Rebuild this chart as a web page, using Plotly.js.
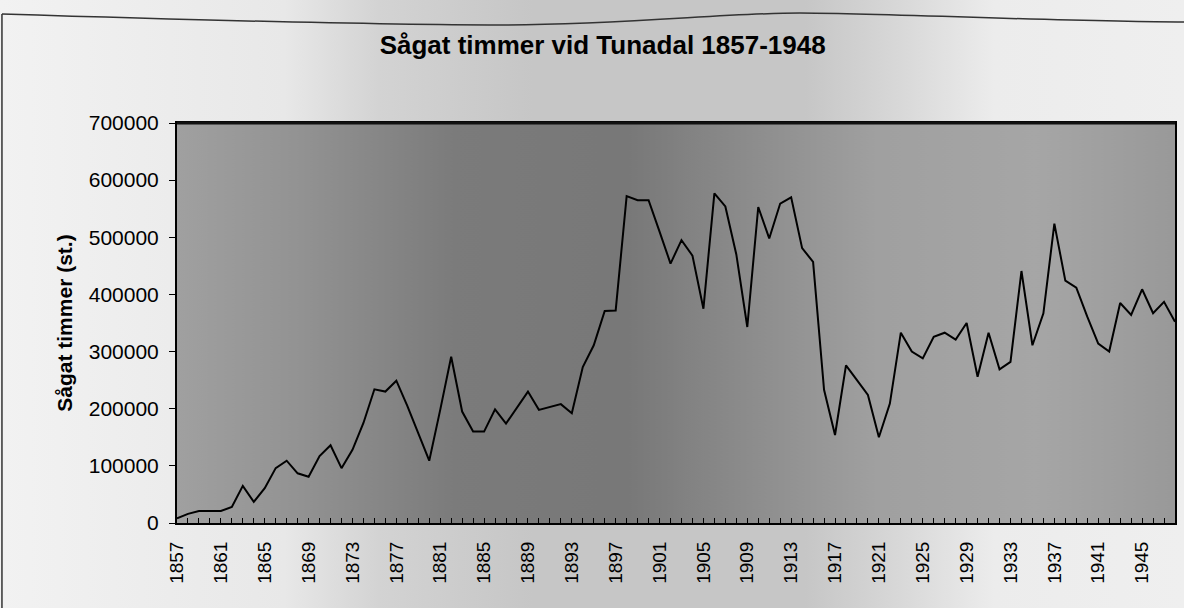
<!DOCTYPE html>
<html>
<head>
<meta charset="utf-8">
<script src="https://cdn.plot.ly/plotly-3.0.1.min.js"></script>
<style>
  html, body { margin:0; padding:0; }
  body {
    width:1184px; height:608px; overflow:hidden;
    background: linear-gradient(to right, #f2f2f2 0%, #e8e8e8 24%, #d3d3d3 32%, #c6c6c6 45%, #c6c6c6 68%, #d8d8d8 76%, #ececec 84%, #efefef 100%);
  }
  #chart { width:1184px; height:608px; }
</style>
</head>
<body>
<div id="chart"></div>
<script>
// Data
const years = [
  1857,1858,1859,1860,1861,1862,1863,1864,1865,1866,1867,1868,1869,1870,1871,1872,1873,1874,1875,1876,
  1877,1878,1879,1880,1881,1882,1883,1884,1885,1886,1887,1888,1889,1890,1891,1892,1893,1894,1895,1896,
  1897,1898,1899,1900,1901,1902,1903,1904,1905,1906,1907,1908,1909,1910,1911,1912,1913,1914,1915,1916,
  1917,1918,1919,1920,1921,1922,1923,1924,1925,1926,1927,1928,1929,1930,1931,1932,1933,1934,1935,1936,
  1937,1938,1939,1940,1941,1942,1943,1944,1945,1946,1947,1948
];
const sawnLogs = [
  8000,16000,21000,21000,21000,28000,65000,37000,61000,96000,109000,87000,81000,117000,136000,96000,128000,175000,234000,230000,
  249000,205000,157000,109000,198000,291000,195000,160000,160000,199000,174000,203000,230000,198000,203000,208000,192000,273000,311000,371000,
  372000,572000,565000,565000,510000,454000,495000,468000,375000,577000,554000,470000,343000,553000,498000,559000,570000,481000,457000,233000,
  154000,276000,250000,224000,150000,209000,333000,300000,288000,326000,333000,321000,350000,256000,333000,269000,282000,441000,311000,367000,
  524000,424000,412000,361000,314000,300000,385000,364000,409000,367000,387000,352000
];
const xTickVals = [1857,1861,1865,1869,1873,1877,1881,1885,1889,1893,1897,1901,1905,1909,1913,1917,1921,1925,1929,1933,1937,1941,1945];
const xTickText = ["1857","1861","1865","1869","1873","1877","1881","1885","1889","1893","1897","1901","1905","1909","1913","1917","1921","1925","1929","1933","1937","1941","1945"];
const yTickVals = [0,100000,200000,300000,400000,500000,600000,700000];
const chartTitle = 'Sågat timmer vid Tunadal 1857-1948';
const yTitle = 'Sågat timmer (st.)';

// Plot-area background shading (scanned grey look)
function plotBg() {
  const c = document.createElement('canvas');
  c.width = 1000; c.height = 400;
  const g = c.getContext('2d');
  const h = g.createLinearGradient(0,0,1000,0);
  h.addColorStop(0.00, '#a0a0a0');
  h.addColorStop(0.12, '#939393');
  h.addColorStop(0.28, '#7b7b7b');
  h.addColorStop(0.45, '#787878');
  h.addColorStop(0.56, '#8a8a8a');
  h.addColorStop(0.70, '#a0a0a0');
  h.addColorStop(0.86, '#a6a6a6');
  h.addColorStop(1.00, '#999999');
  g.fillStyle = h; g.fillRect(0,0,1000,400);
  return c.toDataURL('image/png');
}

const FONT = 'Arial, Liberation Sans, sans-serif';

const trace = {
  x: years, y: sawnLogs, type: 'scatter', mode: 'lines',
  line: { color: '#000000', width: 2 }, hoverinfo: 'x+y'
};

const layout = {
  width: 1184, height: 608,
  margin: { l: 177, r: 9, t: 123, b: 85 },
  paper_bgcolor: 'rgba(0,0,0,0)',
  plot_bgcolor: 'rgba(0,0,0,0)',
  showlegend: false,
  font: { family: FONT, color: '#000', size: 20 },
  title: {
    text: '<b>' + chartTitle + '</b>',
    x: 0.509, xanchor: 'center', xref: 'container',
    y: 0.926, yanchor: 'middle', yref: 'container',
    font: { family: FONT, size: 26, color: '#000' }
  },
  xaxis: {
    range: [1857, 1948],
    tickmode: 'array', tickvals: xTickVals, ticktext: xTickText,
    tickangle: -90,
    ticks: 'inside', ticklen: 5, tickwidth: 1, tickcolor: '#000',
    minor: { tickmode: 'linear', tick0: 1857, dtick: 1, ticks: 'inside', ticklen: 5, tickwidth: 1, tickcolor: '#000' },
    ticklabelstandoff: 9,
    tickfont: { family: FONT, size: 19, color: '#000' },
    showgrid: false, zeroline: false,
    showline: true, linecolor: '#000', linewidth: 2, mirror: true
  },
  yaxis: {
    range: [0, 700000],
    tickmode: 'array', tickvals: yTickVals, tickformat: 'd',
    ticks: 'outside', ticklen: 6, tickwidth: 1, tickcolor: '#000',
    ticklabelstandoff: 6,
    tickfont: { family: FONT, size: 21, color: '#000' },
    showgrid: false, zeroline: false,
    showline: true, linecolor: '#000', linewidth: 2, mirror: true
  },
  annotations: [{
    text: '<b>' + yTitle + '</b>', textangle: -90,
    xref: 'paper', yref: 'paper', x: -0.1135, y: 0.50,
    xanchor: 'center', yanchor: 'middle', showarrow: false,
    font: { family: FONT, size: 21, color: '#000' }
  }],
  images: [{
    source: plotBg(), xref: 'paper', yref: 'paper',
    x: 0, y: 1, sizex: 1, sizey: 1, xanchor: 'left', yanchor: 'top',
    sizing: 'stretch', layer: 'below'
  }],
  shapes: [
    { type: 'line', xref: 'paper', yref: 'paper', x0: 0, x1: 1, y0: 1, y1: 1, line: { color: '#111', width: 3 } },
    { type: 'line', xref: 'paper', yref: 'paper', x0: -0.1754, x1: -0.1754, y0: 1.2725, y1: -0.22, line: { color: '#333', width: 1.5 } },
    { type: 'path', xref: 'paper', yref: 'paper',
      path: 'M -0.1754,1.2725 C 0.05,1.255 0.2,1.245 0.3236,1.245 S 0.55,1.275 0.6242,1.275 S 0.9,1.2525 1.01,1.2525',
      line: { color: '#333', width: 1.5 } }
  ]
};

Plotly.newPlot('chart', [trace], layout, { displayModeBar: false, staticPlot: true });
</script>
</body>
</html>
